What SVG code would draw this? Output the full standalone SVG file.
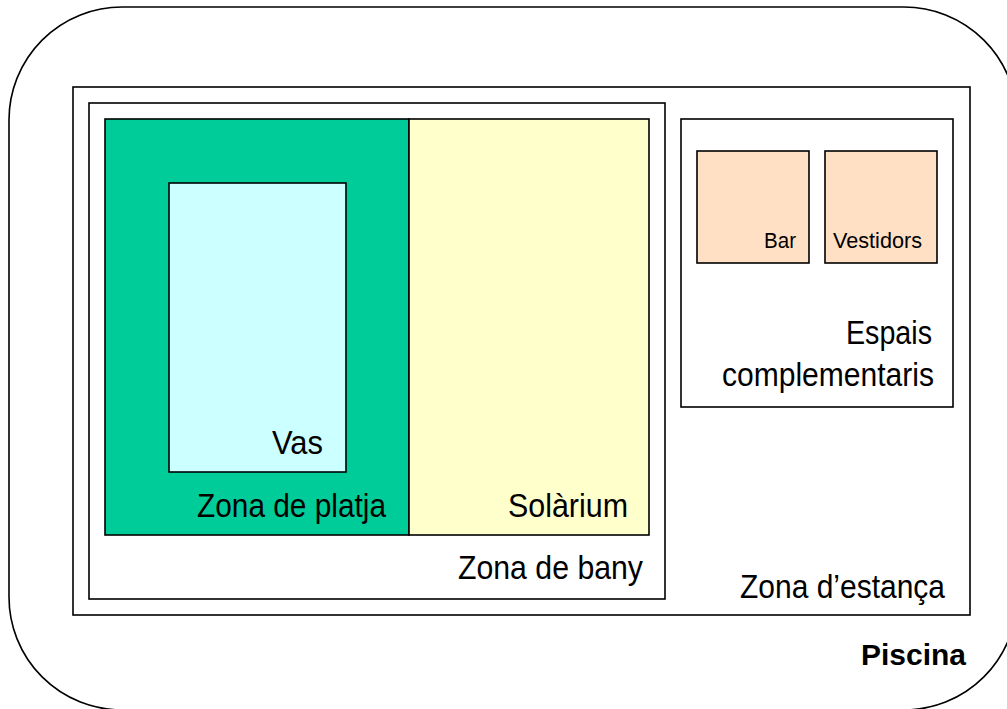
<svg xmlns="http://www.w3.org/2000/svg" width="1007" height="709" viewBox="0 0 1007 709">
<style>
.b{stroke:#000;stroke-width:1.6}
.t{font-family:"Liberation Sans",Arial,sans-serif;font-size:34px;fill:#000;text-anchor:end}
.s{font-size:22px}
.bold{font-weight:bold;font-size:30px}
</style>
<rect width="1007" height="709" fill="#fff"/>
<g id="piscina">
<rect class="b" x="9" y="7" width="1008" height="703" rx="113" ry="113" fill="#fff"/>
<text class="t bold" x="966" y="665" textLength="105" lengthAdjust="spacingAndGlyphs">Piscina</text>
</g>
<g id="zona-estanca">
<rect class="b" x="73" y="87" width="897" height="528" fill="#fff"/>
<text class="t" x="945" y="598" textLength="205" lengthAdjust="spacingAndGlyphs">Zona d’estança</text>
</g>
<g id="zona-bany">
<rect class="b" x="89" y="103" width="576" height="496" fill="#fff"/>
<text class="t" x="643" y="579" textLength="185" lengthAdjust="spacingAndGlyphs">Zona de bany</text>
</g>
<g id="zona-platja">
<rect class="b" x="105" y="119" width="304" height="416" fill="#00CC99"/>
<text class="t" x="386" y="517" textLength="189" lengthAdjust="spacingAndGlyphs">Zona de platja</text>
</g>
<g id="solarium">
<rect class="b" x="409" y="119" width="240" height="416" fill="#FFFFCC"/>
<text class="t" x="628" y="517" textLength="120" lengthAdjust="spacingAndGlyphs">Solàrium</text>
</g>
<g id="vas">
<rect class="b" x="169" y="183" width="177" height="289" fill="#CCFFFF"/>
<text class="t" x="323" y="454" textLength="51" lengthAdjust="spacingAndGlyphs">Vas</text>
</g>
<g id="espais">
<rect class="b" x="681" y="119" width="272" height="288" fill="#fff"/>
<text class="t" x="932" y="344" textLength="86" lengthAdjust="spacingAndGlyphs">Espais</text>
<text class="t" x="934" y="386" textLength="212" lengthAdjust="spacingAndGlyphs">complementaris</text>
</g>
<g id="bar">
<rect class="b" x="697" y="151" width="112" height="112" fill="#FFE0C4"/>
<text class="t s" x="796" y="248" textLength="32" lengthAdjust="spacingAndGlyphs">Bar</text>
</g>
<g id="vestidors">
<rect class="b" x="825" y="151" width="112" height="112" fill="#FFE0C4"/>
<text class="t s" x="922" y="248" textLength="89" lengthAdjust="spacingAndGlyphs">Vestidors</text>
</g>
<g id="connectors"/>
</svg>
